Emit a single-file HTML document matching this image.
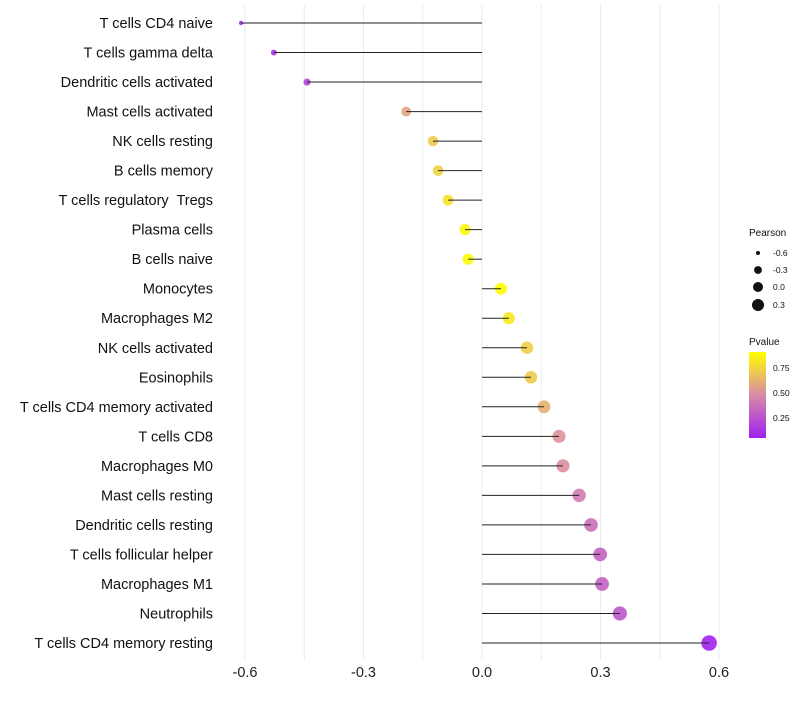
<!DOCTYPE html>
<html><head><meta charset="utf-8"><style>
body{margin:0;background:#fff;font-family:"Liberation Sans",sans-serif}
</style></head><body>
<svg id="chart" width="800" height="700" xmlns="http://www.w3.org/2000/svg">
<defs><linearGradient id="pg" x1="0" y1="1" x2="0" y2="0">
<stop offset="0" stop-color="#a020f0"/><stop offset="0.5" stop-color="#d98aa8"/><stop offset="1" stop-color="#ffff00"/>
</linearGradient></defs>
<g id="grid"></g><g id="marks"></g><g id="labels"></g>
<g font-size="8.5" fill="#111">
<text x="749" y="236" font-size="10">Pearson</text>
<circle cx="758" cy="253" r="2"/><text x="773" y="256">-0.6</text>
<circle cx="758" cy="270" r="3.9"/><text x="773" y="273">-0.3</text>
<circle cx="758" cy="287" r="5"/><text x="773" y="290">0.0</text>
<circle cx="758" cy="305" r="6"/><text x="773" y="308">0.3</text>
</g>
<g font-size="8.5" fill="#111">
<text x="749" y="345" font-size="10">Pvalue</text>
<rect x="749" y="352" width="17" height="86" fill="url(#pg)"/>
<text x="773" y="371">0.75</text><text x="773" y="396">0.50</text><text x="773" y="421">0.25</text>
</g>
</svg>
<script>
const categories=["T cells CD4 naive","T cells gamma delta","Dendritic cells activated","Mast cells activated","NK cells resting","B cells memory","T cells regulatory\u00a0 Tregs","Plasma cells","B cells naive","Monocytes","Macrophages M2","NK cells activated","Eosinophils","T cells CD4 memory activated","T cells CD8","Macrophages M0","Mast cells resting","Dendritic cells resting","T cells follicular helper","Macrophages M1","Neutrophils","T cells CD4 memory resting"];
const pearson=[-0.61,-0.527,-0.443,-0.192,-0.124,-0.111,-0.086,-0.043,-0.035,0.048,0.068,0.114,0.124,0.157,0.195,0.205,0.246,0.276,0.299,0.304,0.349,0.575];
const pvalues=[0.1,0.12,0.2,0.58,0.72,0.74,0.8,0.88,0.9,0.9,0.83,0.73,0.72,0.62,0.52,0.5,0.42,0.37,0.32,0.31,0.27,0.06];
const xTicks=[-0.6,-0.3,0,0.3,0.6];
const xTickLabels=["-0.6","-0.3","0.0","0.3","0.6"];
const NS="http://www.w3.org/2000/svg";
const x=v=>482+v*395;
const y=i=>23+i*(620/21);
const rad=v=>1.15*Math.sqrt(Math.max(1,4+(v+0.6)/0.9*32));
function lerp(a,b,t){return a.map((c,i)=>Math.round(c+(b[i]-c)*t));}
function col(p){const t=Math.min(1,Math.max(0,(p-0.05)/0.86));const A=[160,32,240],M=[217,138,168],B=[255,255,0];
const c=t<0.5?lerp(A,M,t/0.5):lerp(M,B,(t-0.5)/0.5);return `rgb(${c})`;}
function mk(tag,at,parent){const e=document.createElementNS(NS,tag);for(const k in at)e.setAttribute(k,at[k]);document.getElementById(parent).appendChild(e);return e;}
for(let v=-0.6;v<=0.61;v+=0.15){const g=mk("line",{x1:x(v),x2:x(v),y1:5,y2:660,stroke:"#ebebeb","stroke-width":1},"grid");

}
xTicks.forEach((v,i)=>{const t=mk("text",{x:x(v),y:677,"text-anchor":"middle","font-size":14.5,fill:"#222"},"labels");t.textContent=xTickLabels[i];

});
categories.forEach((c,i)=>{
const t=mk("text",{x:213,y:y(i)+5,"text-anchor":"end","font-size":14.5,fill:"#111"},"labels");t.textContent=c;


const p=mk("circle",{cx:x(pearson[i]),cy:y(i),r:rad(pearson[i]),fill:col(pvalues[i]),"fill-opacity":0.9},"marks");


const l=mk("line",{x1:x(0),x2:x(pearson[i]),y1:y(i),y2:y(i),stroke:"#222","stroke-width":1},"marks");


});
</script>
</body></html>
